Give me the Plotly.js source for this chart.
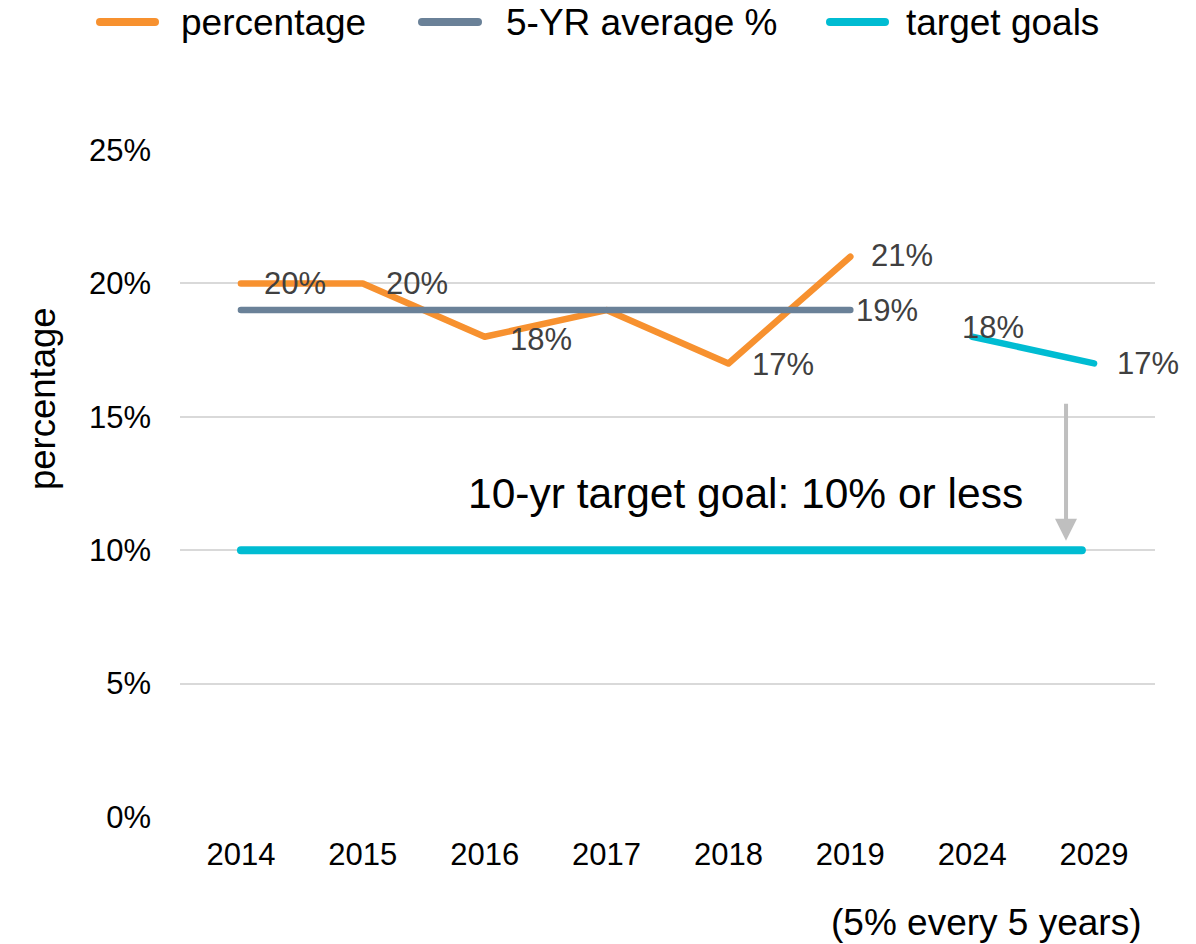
<!DOCTYPE html>
<html>
<head>
<meta charset="utf-8">
<script src="https://cdn.plot.ly/plotly-3.0.1.min.js"></script>
<style>
  html, body { margin: 0; padding: 0; background: #fff; }
  .scatterlayer .js-line { stroke-linecap: round; stroke-linejoin: round; }
  .shapelayer path { stroke-linecap: round; }
</style>
</head>
<body>
<div id="chart" style="width:1196px;height:944px;"></div>
<script>
// ---------- data ----------
const categories = ['2014', '2015', '2016', '2017', '2018', '2019', '2024', '2029'];
const pctYears = ['2014', '2015', '2016', '2017', '2018', '2019'];
const pctValues = [0.20, 0.20, 0.18, 0.19, 0.17, 0.21];
const avgYears = ['2014', '2015', '2016', '2017', '2018', '2019'];
const avgValues = [0.19, 0.19, 0.19, 0.19, 0.19, 0.19];
const goalYears = ['2024', '2029'];
const goalValues = [0.18, 0.17];
const tenYearGoal = 0.10;
const seriesNames = ['percentage', '5-YR average %', 'target goals'];
const yTitle = 'percentage';
const goalText = '10-yr target goal: 10% or less';
const noteText = '(5% every 5 years)';

// ---------- style ----------
const colors = ['#F7912F', '#6A8198', '#00BCD2'];
const FONT = 'Liberation Sans, Arial, sans-serif';
const labelColor = '#404040';
const M = { l: 180, r: 41, t: 150, b: 127 };
const W = 1196, H = 944;
const pw = W - M.l - M.r, ph = H - M.t - M.b;
const px2paperX = px => (px - M.l) / pw;
const px2paperY = py => (H - M.b - py) / ph;
const idx = c => categories.indexOf(c);

const traces = [
  { x: pctYears, y: pctValues, name: seriesNames[0], type: 'scatter', mode: 'lines',
    line: { color: colors[0], width: 6.5 }, cliponaxis: false, hoverinfo: 'x+y' },
  { x: avgYears, y: avgValues, name: seriesNames[1], type: 'scatter', mode: 'lines',
    line: { color: colors[1], width: 6.5 }, cliponaxis: false, hoverinfo: 'x+y' },
  { x: goalYears, y: goalValues, name: seriesNames[2], type: 'scatter', mode: 'lines',
    line: { color: colors[2], width: 6.5 }, cliponaxis: false, hoverinfo: 'x+y' }
];

const pct = v => Math.round(v * 100) + '%';
const annotations = [];
function label(c, y, xshift, yshift) {
  annotations.push({ x: idx(c), y: y, xref: 'x', yref: 'y', text: pct(y), showarrow: false,
    xanchor: 'left', yanchor: 'middle', xshift: xshift, yshift: yshift,
    font: { family: FONT, size: 31, color: labelColor } });
}
const pctShifts = [[21, 0], [21, 0], [23, -3], null, [22, -1], [19, 1]];
pctYears.forEach((c, i) => { if (pctShifts[i]) label(c, pctValues[i], pctShifts[i][0], pctShifts[i][1]); });
label(avgYears[avgYears.length - 1], avgValues[avgValues.length - 1], 4, 0);
label(goalYears[0], goalValues[0], -12, 9);
label(goalYears[1], goalValues[1], 21, 0);

// Goal text + arrow
annotations.push({ x: 4.14, y: 0.1214, xref: 'x', yref: 'y', text: goalText, showarrow: false,
  xanchor: 'center', yanchor: 'middle', font: { family: FONT, size: 42.5, color: '#000' } });
annotations.push({ x: 6.77, y: tenYearGoal + 0.0035, xref: 'x', yref: 'y', ax: 6.77, ay: 0.1555,
  axref: 'x', ayref: 'y', text: '', showarrow: true, arrowhead: 2, arrowsize: 1.1,
  arrowwidth: 4, arrowcolor: '#BFBFBF' });
// note
annotations.push({ x: px2paperX(986), y: px2paperY(922), xref: 'paper', yref: 'paper', text: noteText,
  showarrow: false, xanchor: 'center', yanchor: 'middle', borderpad: 0,
  font: { family: FONT, size: 37, color: '#000' } });
// y title
annotations.push({ x: px2paperX(42), y: px2paperY(399), xref: 'paper', yref: 'paper', text: yTitle,
  showarrow: false, textangle: -90, xanchor: 'center', yanchor: 'middle',
  font: { family: FONT, size: 36.5, color: '#000' } });

// custom legend
const shapes = [
  { type: 'line', xref: 'x', yref: 'y', x0: idx('2014'), x1: 6.9, y0: tenYearGoal, y1: tenYearGoal,
    line: { color: colors[2], width: 8 } }
];
const legendLines = [[100, 155], [422, 478], [830, 885]];
const legendText = [180, 505, 905];
const legendY = px2paperY(22);
seriesNames.forEach((n, i) => {
  shapes.push({ type: 'line', xref: 'paper', yref: 'paper', x0: px2paperX(legendLines[i][0]),
    x1: px2paperX(legendLines[i][1]), y0: legendY, y1: legendY, line: { color: colors[i], width: 8 } });
  annotations.push({ x: px2paperX(legendText[i]), y: legendY, xref: 'paper', yref: 'paper',
    text: n, showarrow: false, xanchor: 'left', yanchor: 'middle', borderpad: 0,
    font: { family: FONT, size: 37, color: '#000' } });
});

const layout = {
  width: W, height: H, margin: M, showlegend: false,
  paper_bgcolor: '#fff', plot_bgcolor: '#fff',
  font: { family: FONT, color: '#000' },
  xaxis: { type: 'category', categoryorder: 'array', categoryarray: categories, range: [-0.5, 7.5],
    showgrid: false, zeroline: false, showline: false, ticks: '', automargin: false,
    tickfont: { family: FONT, size: 31, color: '#000' }, ticklabelstandoff: 16 },
  yaxis: { range: [0, 0.25], tick0: 0, dtick: 0.05, tickformat: '.0%', automargin: false,
    gridcolor: '#D9D9D9', gridwidth: 2, zeroline: false, showline: false, ticks: '',
    tickfont: { family: FONT, size: 31, color: '#000' }, ticklabelstandoff: 28 },
  annotations: annotations, shapes: shapes
};

Plotly.newPlot('chart', traces, layout, { displayModeBar: false, staticPlot: true });
</script>
</body>
</html>
